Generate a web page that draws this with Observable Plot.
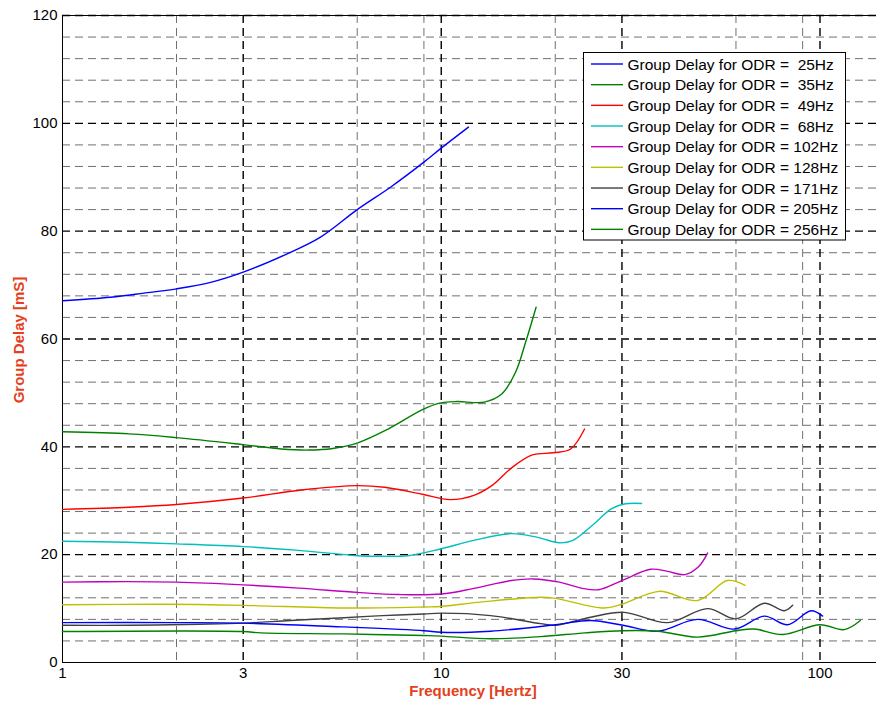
<!DOCTYPE html>
<html>
<head>
<meta charset="utf-8">
<script src="https://cdn.jsdelivr.net/npm/d3@7"></script>
<script src="https://cdn.jsdelivr.net/npm/@observablehq/plot@0.6"></script>
<style>
  html, body { margin: 0; padding: 0; background: #fff; }
  #chart { width: 876px; height: 704px; }
</style>
</head>
<body>
<div id="chart"></div>
<script>
// Series values: [frequency (Hz), group delay (ms)]
const odr25  = [[1,67.1],[1.34,67.75],[1.64,68.5],[2,69.3],[2.46,70.5],[3,72.4],[3.92,75.8],[4.8,78.9],[6,84.0],[7.36,88.2],[9,92.8],[10,95.4],[11.8,99.3]];
const odr35  = [[1,42.8],[1.5,42.4],[2,41.7],[3,40.4],[3.78,39.6],[4.47,39.4],[5.17,39.7],[6,40.7],[7.24,43.3],[8.92,46.9],[9.9,48.1],[11,48.4],[13,48.3],[14.44,49.8],[15.7,53.8],[16.7,59.4],[17.8,65.9]];
const odr49  = [[1,28.4],[1.5,28.8],[2,29.3],[3,30.5],[4.28,32.0],[6,32.8],[7.08,32.5],[8.92,31.2],[10.55,30.2],[12.2,31.0],[13.6,32.8],[15.4,36.2],[17.4,38.5],[19.8,38.9],[21.96,39.6],[23.9,43.3]];
const odr68  = [[1,22.5],[1.47,22.3],[2,22.0],[3,21.5],[4.21,20.8],[6,19.8],[6.95,19.7],[8.15,19.8],[10,21.1],[12.1,22.6],[15.3,23.9],[17.97,23.2],[20.5,22.2],[22.2,22.6],[25.3,25.7],[28.1,28.5],[30.4,29.4],[33.8,29.5]];
const odr102 = [[1,14.9],[1.47,15.0],[2,14.9],[3,14.4],[4.21,13.8],[6,13.0],[7.73,12.6],[10,12.7],[12.1,13.7],[15.3,15.2],[17.5,15.5],[20.5,14.9],[23.4,13.8],[26,13.5],[30,15.2],[35.7,17.3],[39.6,16.9],[44,16.3],[47.7,17.7],[50.5,20.3]];
const odr128 = [[1,10.7],[1.82,10.8],[3,10.6],[5.54,10.1],[9,10.3],[10,10.4],[12.7,11.2],[18.3,12.1],[20,11.9],[26.9,10.1],[30,10.8],[37.6,13.2],[47.5,11.5],[57,15.2],[63.4,14.3]];
const odr171 = [[1,6.9],[1.5,6.9],[2.3,7.1],[3,7.3],[4,7.8],[5.54,8.3],[7,8.7],[9,9.0],[10,9.15],[13.5,8.7],[18.3,7.2],[20,6.9],[24.8,8.4],[30.4,9.3],[39.6,7.4],[50.5,10.0],[60,8.1],[71.3,11.0],[80.5,9.6],[84.7,10.6]];
const odr205 = [[1,7.4],[2,7.4],[3,7.3],[5.54,6.6],[9,5.9],[10,5.6],[13.5,5.8],[20,7.0],[24.8,7.8],[30.2,6.9],[37.3,5.8],[47.5,8.0],[59.4,6.2],[71.3,8.6],[82.2,7.0],[94.7,9.6],[101.6,8.6]];
const odr256 = [[1,5.75],[3,5.75],[3.33,5.5],[5.54,5.3],[9,5.0],[10,4.9],[13.5,4.4],[18.3,4.8],[24,5.5],[30.2,5.9],[37.3,5.8],[47.5,4.7],[60,5.9],[67.1,6.2],[79.7,5.2],[100,7.0],[115.9,6.1],[127.8,7.8]];

const seriesLabels = ["Group Delay for ODR =  25Hz","Group Delay for ODR =  35Hz","Group Delay for ODR =  49Hz","Group Delay for ODR =  68Hz","Group Delay for ODR = 102Hz","Group Delay for ODR = 128Hz","Group Delay for ODR = 171Hz","Group Delay for ODR = 205Hz","Group Delay for ODR = 256Hz"];
const seriesColors = ["#0000ff","#008000","#ff0000","#00bfbf","#bf00bf","#bfbf00","#404040","#0000ff","#008000"];
const seriesData = [odr25, odr35, odr49, odr68, odr102, odr128, odr171, odr205, odr256];

// Ticks and grid
const xTicks = [1, 3, 10, 30, 100];
const xMinor = [2, 6, 9, 20, 60, 90];
const yTicks = [0, 20, 40, 60, 80, 100, 120];
const yMinor = [4,8,12,16,24,28,32,36,44,48,52,56,64,68,72,76,84,88,92,96,104,108,112,116];

const font = "'Liberation Sans', Arial, Helvetica, sans-serif";
const labelColor = "#e4401c";

const lineMarks = seriesData.map((d, i) =>
  Plot.line(d, {x: p => p[0], y: p => p[1], stroke: seriesColors[i], strokeWidth: 1.4, curve: "catmull-rom"})
);

const svg = Plot.plot({
  width: 876,
  height: 704,
  marginLeft: 62,
  marginRight: 0,
  marginTop: 15,
  marginBottom: 42,
  style: {fontFamily: font, fontSize: "15px", background: "white", color: "#000", overflow: "visible"},
  x: {type: "log", domain: [1, 141]},
  y: {domain: [0, 120]},
  marks: [
    Plot.ruleY(yMinor, {stroke: "#707070", strokeWidth: 1, strokeDasharray: "8,5"}),
    Plot.ruleX(xMinor, {stroke: "#707070", strokeWidth: 1, strokeDasharray: "8,5"}),
    Plot.ruleY(yTicks.filter(v => v > 0), {stroke: "#000", strokeWidth: 1.4, strokeDasharray: "8,5"}),
    Plot.ruleX(xTicks.filter(v => v > 1), {stroke: "#000", strokeWidth: 1.4, strokeDasharray: "8,5"}),
    Plot.ruleY([0, 120], {stroke: "#000", strokeWidth: 1}),
    Plot.ruleX([1], {stroke: "#000", strokeWidth: 1}),
    ...lineMarks,
    Plot.axisX({ticks: xTicks, tickFormat: d => String(d), tickSize: 0, tickPadding: 5, label: null, fontSize: 15}),
    Plot.axisY({ticks: yTicks, tickFormat: d => String(d), tickSize: 0, tickPadding: 5, label: null, fontSize: 15})
  ]
});

const root = d3.select(svg);

// Axis titles
root.append("text")
  .attr("x", 473).attr("y", 696)
  .attr("text-anchor", "middle")
  .attr("fill", labelColor)
  .style("font", `bold 15px ${font}`)
  .text("Frequency [Hertz]");

root.append("text")
  .attr("transform", "translate(24,340) rotate(-90)")
  .attr("text-anchor", "middle")
  .attr("fill", labelColor)
  .style("font", `bold 15px ${font}`)
  .text("Group Delay [mS]");

// Legend
const lg = root.append("g").attr("text-anchor", "start");
lg.append("rect")
  .attr("x", 583.5).attr("y", 52.5).attr("width", 262).attr("height", 187.5)
  .attr("fill", "#fff").attr("stroke", "#000").attr("stroke-width", 1);
seriesLabels.forEach((t, i) => {
  const y = 64 + i * 20.67;
  lg.append("line")
    .attr("x1", 591).attr("x2", 623).attr("y1", y).attr("y2", y)
    .attr("stroke", seriesColors[i]).attr("stroke-width", 1.4);
  lg.append("text")
    .attr("x", 627.5).attr("y", y).attr("dy", "0.36em")
    .attr("text-anchor", "start")
    .style("text-anchor", "start")
    .style("font", `15.5px ${font}`)
    .style("white-space", "pre")
    .attr("fill", "#000")
    .text(t);
});

document.getElementById("chart").appendChild(svg);
</script>
</body>
</html>
